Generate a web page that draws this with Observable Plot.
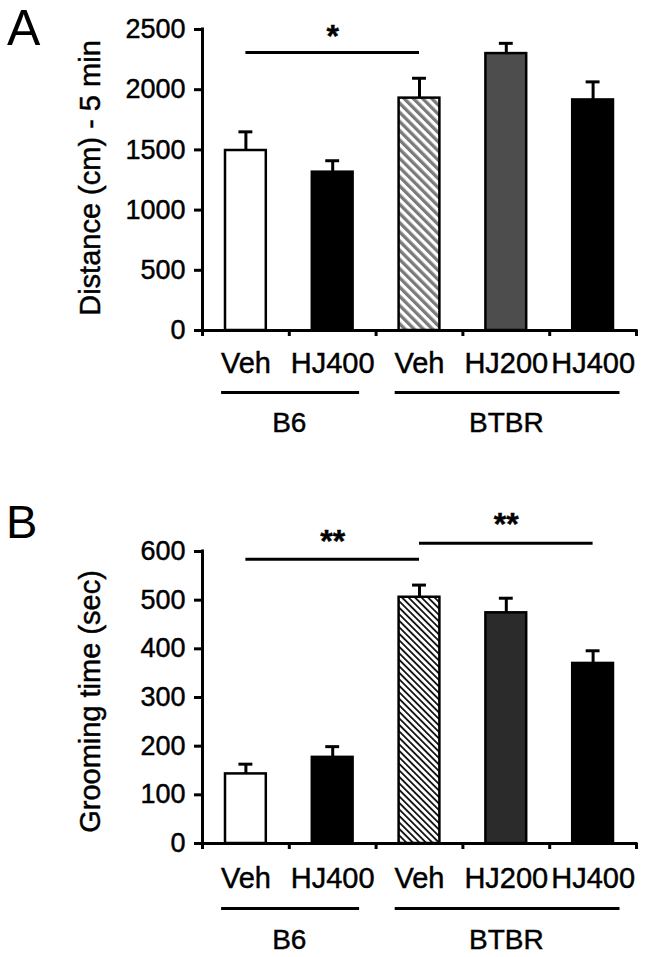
<!DOCTYPE html>
<html>
<head>
<meta charset="utf-8">
<script src="https://cdn.jsdelivr.net/npm/d3@7"></script>
<script src="https://cdn.jsdelivr.net/npm/@observablehq/plot@0.6"></script>
<style>
  html, body { margin: 0; padding: 0; background: white; }
  body { width: 646px; height: 957px; position: relative; overflow: hidden;
         font-family: "Liberation Sans", Arial, Helvetica, sans-serif; }
  .panel { position: absolute; left: 0; }
  .panel svg text { stroke: black; stroke-width: 0.45px; }
  .letter { position: absolute; line-height: 1; color: black; font-family: "Liberation Sans", Arial, sans-serif; }
</style>
</head>
<body>
<svg width="0" height="0" style="position:absolute">
  <defs>
    <pattern id="hatchA" patternUnits="userSpaceOnUse" width="6.5" height="6.5" patternTransform="rotate(-45)">
      <rect x="0" y="0" width="6.5" height="6.5" fill="white"></rect>
      <rect x="0" y="0" width="3.3" height="6.5" fill="#7a7a7a"></rect>
    </pattern>
    <pattern id="hatchB" patternUnits="userSpaceOnUse" width="4.6" height="4.6" patternTransform="rotate(-45)">
      <rect x="0" y="0" width="4.6" height="4.6" fill="white"></rect>
      <rect x="0" y="0" width="1.8" height="4.6" fill="#111"></rect>
    </pattern>
  </defs>
</svg>
<div class="letter" style="left:7px; top:3px; font-size:50px;">A</div>
<div class="letter" style="left:6px; top:498px; font-size:47px;">B</div>
<div id="panelA" class="panel" style="top:0px"></div>
<div id="panelB" class="panel" style="top:470px"></div>
<script>
// ---- data ----
const categories = ["Veh", "HJ400", "Veh", "HJ200", "HJ400"];
const groups = ["B6", "BTBR"];
const groupStart = [0, 2];
const groupEnd = [2, 5];

const distance = [1495, 1315, 1930, 2300, 1915];
const distanceErr = [155, 95, 165, 85, 150];
const distanceTicks = [0, 500, 1000, 1500, 2000, 2500];
const distanceFills = ["white", "black", "url(#hatchA)", "#4d4d4d", "black"];

const grooming = [143, 177, 506, 474, 370];
const groomingErr = [20, 22, 25, 30, 26];
const groomingTicks = [0, 100, 200, 300, 400, 500, 600];
const groomingFills = ["white", "black", "url(#hatchB)", "#2b2b2b", "black"];

const sigA = [{from: 0, to: 2, y: 2310, label: "*"}];
const sigB = [{from: 0, to: 2, y: 584, label: "**"}, {from: 2, to: 4, y: 617, label: "**"}];

const FONT = "'Liberation Sans', Arial, Helvetica, sans-serif";

function panel({values, errs, fills, ticks, yLabel, sig, height, marginTop, marginBottom, labelDy, groupLineDy, groupTextDy, starDy, tickPad}) {
  const data = categories.map((c, i) => ({i, c, v: values[i], e: errs[i], fill: fills[i]}));
  const yMax = ticks[ticks.length - 1];
  return Plot.plot({
    width: 646,
    height,
    marginLeft: 202,
    marginRight: 10,
    marginTop,
    marginBottom,
    style: {fontFamily: FONT, fontSize: "27px", background: "transparent", overflow: "visible", color: "black"},
    x: {type: "linear", domain: [0, categories.length], axis: null},
    y: {domain: [0, yMax], axis: null},
    color: {type: "identity"},
    marks: [
      // bars
      Plot.rect(data, {x1: d => d.i + 0.265, x2: d => d.i + 0.735, y1: 0, y2: "v", fill: "fill", stroke: "black", strokeWidth: 2.5}),
      // error bars
      Plot.ruleX(data, {x: d => d.i + 0.5, y1: "v", y2: d => d.v + d.e, strokeWidth: 3}),
      Plot.ruleY(data, {y: d => d.v + d.e, x1: d => d.i + 0.42, x2: d => d.i + 0.58, strokeWidth: 3}),
      // axis lines
      Plot.ruleX([0], {y1: 0, y2: yMax, strokeWidth: 3, strokeLinecap: "square"}),
      Plot.ruleY([0], {strokeWidth: 3, strokeLinecap: "square"}),
      Plot.axisY({ticks, tickSize: 8, tickPadding: 9, strokeWidth: 3, fontSize: 27, tickFormat: d => String(d), label: null}),
      Plot.axisX({ticks: d3.range(categories.length + 1), tickSize: 6, strokeWidth: 3, tickFormat: () => "", label: null}),
      Plot.axisX({ticks: categories.map((c, i) => i + 0.5), tickSize: 0, tickPadding: tickPad, fontSize: 29,
                  tickFormat: d => categories[Math.floor(d)], label: null}),
      // y axis title
      Plot.text([yLabel], {frameAnchor: "left", textAnchor: "middle", rotate: -90, dx: -112, dy: labelDy, fontSize: 29, lineAnchor: "middle"}),
      // group lines and labels
      Plot.ruleY(groups, {y: () => 0, x1: (d, i) => groupStart[i] + 0.22, x2: (d, i) => groupEnd[i] - 0.19, dy: groupLineDy, strokeWidth: 3}),
      Plot.text(groups, {x: (d, i) => (groupStart[i] + groupEnd[i]) / 2, y: () => 0, text: d => d, dy: groupTextDy, fontSize: 28, lineAnchor: "middle"}),
      // significance
      Plot.ruleY(sig, {y: "y", x1: d => d.from + 0.5, x2: d => d.to + 0.5, strokeWidth: 3}),
      Plot.text(sig, {x: d => (d.from + d.to) / 2 + 0.5, y: "y", text: "label", dy: starDy, fontSize: 32, fontWeight: "bold", lineAnchor: "middle"})
    ]
  });
}

document.getElementById("panelA").append(panel({
  values: distance, errs: distanceErr, fills: distanceFills, ticks: distanceTicks,
  yLabel: "Distance (cm) - 5 min", sig: sigA, height: 470, marginTop: 29, marginBottom: 140,
  labelDy: -2, groupLineDy: 62, groupTextDy: 93, starDy: -16, tickPad: 22
}));
document.getElementById("panelB").append(panel({
  values: grooming, errs: groomingErr, fills: groomingFills, ticks: groomingTicks,
  yLabel: "Grooming time (sec)", sig: sigB, height: 487, marginTop: 81, marginBottom: 114,
  labelDy: 4, groupLineDy: 65, groupTextDy: 97, starDy: -18, tickPad: 24
}));
</script>
</body>
</html>
